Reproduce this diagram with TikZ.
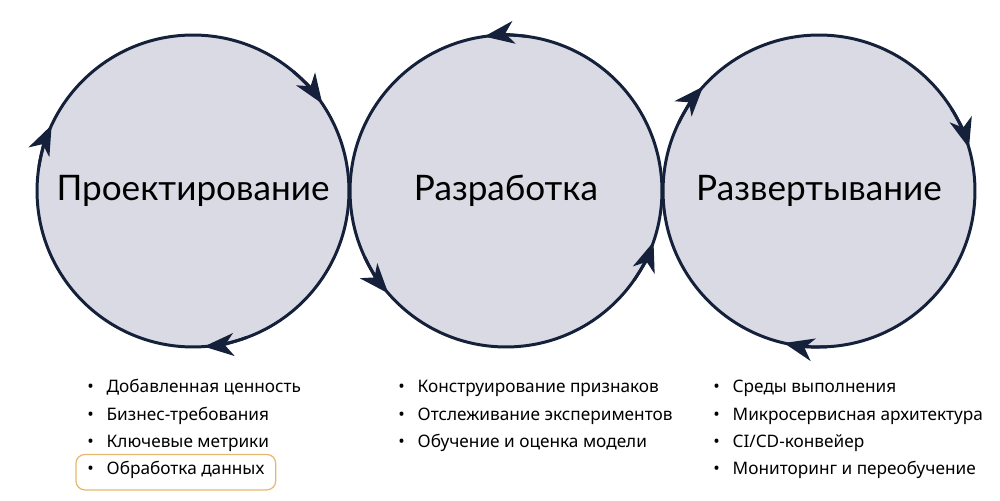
\documentclass[tikz,border=0pt]{standalone}
\usepackage{fontspec}
\setmainfont{Noto Sans}
\newfontfamily\titlefont{Lato}
\usetikzlibrary{arrows.meta,positioning,fit}
\definecolor{ring}{HTML}{15213A}
\definecolor{disc}{HTML}{D9DAE3}
\definecolor{mark}{HTML}{E6B76C}
\newcommand{\dotmark}{\makebox[11pt][l]{•}}
\tikzset{
  stage/.style={circle, draw=ring, line width=1.7pt, fill=disc, minimum size=6.24cm,
    inner sep=0pt, font=\titlefont\fontsize{20}{24}\selectfont},
  tip/.style={draw=ring, line width=1.7pt, -{Stealth[length=17pt,width=13pt,inset=5pt]}},
  item/.style={anchor=west, inner sep=0pt, minimum height=0.534cm, text height=1.6ex,
    text depth=.4ex, font=\fontsize{9.8}{12}\selectfont},
}
\begin{document}
\begin{tikzpicture}[x=0.02cm, y=0.02cm]
\useasboundingbox (0,0) rectangle (1000,500);

\node[stage] (design) at (193,309) {Проектирование};
\node[stage] (develop) at (506,309) {Разработка};
\node[stage] (deploy) at (819,309) {Развертывание};

% arrowheads on the rings
\foreach \a in {34,155,274}
{
   \draw[tip] ([shift={(\a+16:156)}]design.center) arc[start angle=\a+16, end angle=\a, radius=156];
}
\foreach \a in {98,221,341}
{
   \draw[tip] ([shift={(\a-16:156)}]develop.center) arc[start angle=\a-16, end angle=\a, radius=156];
}
\foreach \a in {138,16,257}
{
   \draw[tip] ([shift={(\a+16:156)}]deploy.center) arc[start angle=\a+16, end angle=\a, radius=156];
}

% lists
\node[item] (d1) at (87,113) {\dotmark Добавленная ценность};
\node[item, below=0pt of d1.south west, anchor=north west] (d2) {\dotmark Бизнес-требования};
\node[item, below=0pt of d2.south west, anchor=north west] (d3) {\dotmark Ключевые метрики};
\node[item, below=0pt of d3.south west, anchor=north west] (d4) {\dotmark Обработка данных};
\node[draw=mark, line width=.7pt, rounded corners=5pt, inner xsep=.22cm, inner ysep=.08cm,
  yshift=-.06cm, fit=(d4)] (hl) {};

\node[item] (r1) at (398,113) {\dotmark Конструирование признаков};
\node[item, below=0pt of r1.south west, anchor=north west] (r2) {\dotmark Отслеживание экспериментов};
\node[item, below=0pt of r2.south west, anchor=north west] (r3) {\dotmark Обучение и оценка модели};

\node[item] (p1) at (713,113) {\dotmark Среды выполнения};
\node[item, below=0pt of p1.south west, anchor=north west] (p2) {\dotmark Микросервисная архитектура};
\node[item, below=0pt of p2.south west, anchor=north west] (p3) {\dotmark CI/CD-конвейер};
\node[item, below=0pt of p3.south west, anchor=north west] (p4) {\dotmark Мониторинг и переобучение};
\end{tikzpicture}
\end{document}
